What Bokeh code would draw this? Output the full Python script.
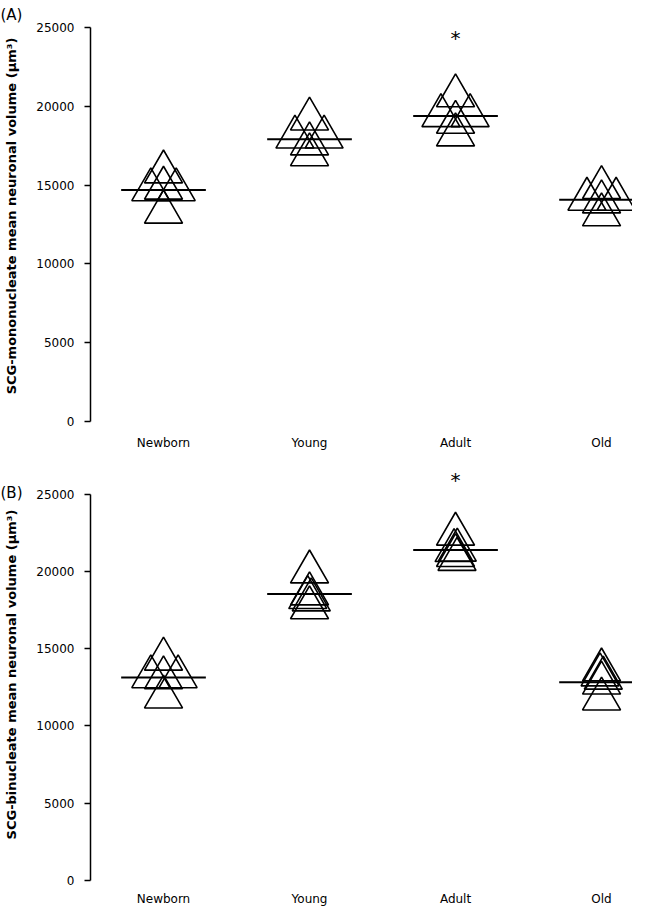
from bokeh.plotting import figure
from bokeh.models import FixedTicker, Range1d
from bokeh.layouts import column
from bokeh.embed import file_html
from bokeh.resources import INLINE
from bokeh.core.properties import value

# ---------------- data ----------------
categories = ["Newborn", "Young", "Adult", "Old"]

# Panel A: mononucleate (µm³), one list per age group
mono_newborn = [15830, 14700, 14700, 14800, 13280]
mono_young = [19190, 18040, 18040, 17610, 16920]
mono_adult = [20660, 19400, 19400, 18980, 18180]
mono_old = [14840, 14100, 14100, 13930, 13110]
mono_means = [14690, 17910, 19380, 14060]
mono_star = 24300  # asterisk above Adult

# horizontal spread of overlapping points (category units)
mono_offsets_newborn = [0, -0.087, 0.087, 0, 0]
mono_offsets_young = [0, -0.1, 0.1, 0, 0]
mono_offsets_adult = [0, -0.1, 0.1, 0, 0]
mono_offsets_old = [0, -0.1, 0.1, 0, 0]

# Panel B: binucleate (µm³)
bi_newborn = [14320, 13180, 13180, 13110, 11870]
bi_young = [19960, 18540, 18300, 18150, 17640]
bi_adult = [22400, 21370, 21340, 21020, 20770]
bi_old = [13620, 13300, 13090, 12770, 11740]
bi_means = [13130, 18530, 21380, 12820]
bi_star = 25900

bi_offsets_newborn = [0, -0.087, 0.1, 0, 0]
bi_offsets_young = [0, 0, -0.012, 0.012, 0]
bi_offsets_adult = [0, 0.012, -0.01, 0, 0.01]
bi_offsets_old = [0, -0.01, 0.012, 0, 0]

y_ticks = [0, 5000, 10000, 15000, 20000, 25000]

FONT = "DejaVu Sans"
X_START, X_END = -0.5, 3.212


def make_panel(groups, offsets, means, star, ylabel, tag, tag_standoff,
               height, top, bottom, y_end, xlab_standoff):
    p = figure(width=632, height=height,
               x_range=Range1d(X_START, X_END), y_range=Range1d(0, y_end),
               output_backend="svg", toolbar_location=None,
               min_border_left=90, min_border_right=0,
               min_border_top=top, min_border_bottom=bottom)
    p.outline_line_color = None
    p.xgrid.visible = False
    p.ygrid.visible = False

    # panel tag as left-aligned title shifted over the axis area
    p.title.text = tag
    p.title.align = "left"
    p.title.offset = -90
    p.title.standoff = tag_standoff
    p.title.vertical_align = "bottom"
    p.title.text_font = FONT
    p.title.text_font_size = "15px"
    p.title.text_font_style = "normal"
    p.title.text_color = "black"

    # triangles
    xs, ys = [], []
    for i, (vals, offs) in enumerate(zip(groups, offsets)):
        for v, o in zip(vals, offs):
            xs.append(i + o)
            ys.append(v)
    p.scatter(xs, ys, marker="triangle", size=38, fill_color=None,
              line_color="black", line_width=1.6)

    # mean lines
    cx = list(range(len(categories)))
    p.segment(x0=[c - 0.29 for c in cx], x1=[c + 0.29 for c in cx],
              y0=means, y1=means, line_color="black", line_width=2)

    # asterisk
    p.text(x=[2], y=[star], text=["*"], text_align="center",
           text_baseline="middle", text_font_size="20px",
           text_font=value(FONT), text_color="black")

    # x axis
    xa = p.xaxis[0]
    xa.ticker = FixedTicker(ticks=cx)
    xa.major_label_overrides = {i: c for i, c in enumerate(categories)}
    xa.axis_line_color = None
    xa.major_tick_line_color = None
    xa.minor_tick_line_color = None
    xa.major_label_text_font = FONT
    xa.major_label_text_font_size = "12px"
    xa.major_label_text_color = "black"
    xa.major_label_standoff = xlab_standoff

    # y axis
    ya = p.yaxis[0]
    ya.ticker = FixedTicker(ticks=y_ticks)
    ya.bounds = (0, 25000)
    ya.axis_line_width = 1.5
    ya.axis_line_color = "black"
    ya.major_tick_line_width = 1.5
    ya.major_tick_line_color = "black"
    ya.major_tick_out = 6
    ya.major_tick_in = 0
    ya.minor_tick_line_color = None
    ya.major_label_text_font = FONT
    ya.major_label_text_font_size = "12px"
    ya.major_label_text_color = "black"
    ya.major_label_standoff = 10
    ya.axis_label = ylabel
    ya.axis_label_text_font = FONT
    ya.axis_label_text_font_size = "13px"
    ya.axis_label_text_font_style = "bold"
    ya.axis_label_text_color = "black"
    ya.axis_label_standoff = 14
    return p


pa = make_panel(
    [mono_newborn, mono_young, mono_adult, mono_old],
    [mono_offsets_newborn, mono_offsets_young, mono_offsets_adult, mono_offsets_old],
    mono_means, mono_star,
    "SCG-mononucleate mean neuronal volume (µm³)", "(A)", -26,
    height=452, top=10, bottom=29, y_end=26070, xlab_standoff=8)

pb = make_panel(
    [bi_newborn, bi_young, bi_adult, bi_old],
    [bi_offsets_newborn, bi_offsets_young, bi_offsets_adult, bi_offsets_old],
    bi_means, bi_star,
    "SCG-binucleate mean neuronal volume (µm³)", "(B)", -66,
    height=456, top=16, bottom=20, y_end=26650, xlab_standoff=5)

layout = column(pa, pb, spacing=0)

with open("out.html", "w") as f:
    f.write(file_html(layout, INLINE))
